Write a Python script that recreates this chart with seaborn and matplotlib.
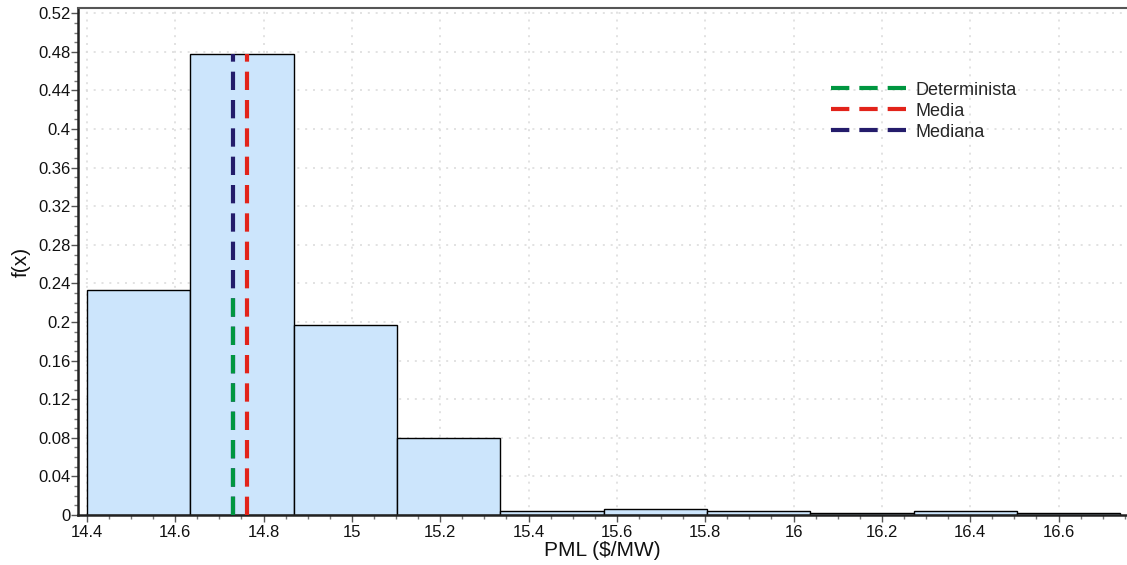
import numpy as np
import pandas as pd
import matplotlib
matplotlib.use("Agg")
import matplotlib.pyplot as plt
import seaborn as sns
from matplotlib.ticker import MultipleLocator, FuncFormatter
from matplotlib.lines import Line2D

# ---- data ----
bin_edges = [14.40, 14.634, 14.868, 15.102, 15.336, 15.570, 15.804, 16.038, 16.272, 16.506, 16.740]
freq = [0.233, 0.478, 0.197, 0.080, 0.004, 0.006, 0.004, 0.002, 0.004, 0.002]
line_labels = ["Determinista", "Media", "Mediana"]
line_x = [14.730, 14.762, 14.730]
line_top = [0.232, 0.478, 0.478]
line_colors = ["#009640", "#E2231A", "#241C6B"]

centers = [(a + b) / 2 for a, b in zip(bin_edges[:-1], bin_edges[1:])]
df = pd.DataFrame({"x": centers, "w": freq})

sns.set_style("white")
plt.rcParams["font.family"] = ["Liberation Sans", "DejaVu Sans"]

fig = plt.figure(figsize=(11.27, 5.65), dpi=100)
ax = fig.add_axes([78 / 1127, 1 - 515 / 565, (1127 - 78) / 1127, (515 - 8) / 565])

sns.histplot(data=df, x="x", weights="w", bins=bin_edges, stat="count",
             color="#CCE5FC", edgecolor="black", linewidth=1.0, alpha=1.0, ax=ax, zorder=2)

order = [2, 0, 1]  # mediana first, determinista over it, then media
for i in order:
    ln, = ax.plot([line_x[i], line_x[i]], [0, line_top[i]], color=line_colors[i],
                  lw=3.0, zorder=4 if i == 0 else 3)
    ln.set_dashes([4.4, 2.4])
    ln.set_dash_capstyle("butt")

ax.set_xlim(14.38, 16.755)
ax.set_ylim(0, 0.5255)

ax.xaxis.set_major_locator(MultipleLocator(0.2))
ax.xaxis.set_minor_locator(MultipleLocator(0.05))
ax.yaxis.set_major_locator(MultipleLocator(0.04))
ax.yaxis.set_minor_locator(MultipleLocator(0.01))

def fmt(v, pos):
    return f"{v:.2f}".rstrip("0").rstrip(".")
ax.xaxis.set_major_formatter(FuncFormatter(fmt))
ax.yaxis.set_major_formatter(FuncFormatter(fmt))

ax.grid(True, which="major", color="#DDDDDD", linestyle=(0, (1.2, 3.5)), lw=1.2, zorder=0)
ax.set_axisbelow(True)

ax.tick_params(axis="x", which="major", direction="out", length=5, width=1,
               color="#555555", labelsize=12, labelcolor="#111111", pad=2, bottom=True)
ax.tick_params(axis="y", which="major", direction="out", length=5, width=1,
               color="#555555", labelsize=12, labelcolor="#111111", pad=0.5, left=True)
ax.tick_params(axis="both", which="minor", direction="out", length=3, width=1,
               color="#777777", bottom=True, left=True)

for side in ["left", "bottom"]:
    ax.spines[side].set_color("#222222")
    ax.spines[side].set_linewidth(1.8)
ax.spines["top"].set_color("#555555")
ax.spines["top"].set_linewidth(1.5)
ax.spines["right"].set_visible(False)

ax.set_xlabel("PML ($/MW)", fontsize=15, color="#111111", labelpad=1)
ax.set_ylabel("f(x)", fontsize=15, color="#111111", labelpad=5)

handles = [Line2D([0], [0], color=c, lw=3.0, dashes=[4.4, 2.4]) for c in line_colors]
ax.legend(handles, line_labels, loc="upper left", bbox_to_anchor=(0.711, 0.869),
          frameon=False, fontsize=13, handlelength=4.15, handletextpad=0.55,
          labelspacing=0.22, borderaxespad=0)

fig.savefig("out.png", dpi=100)
